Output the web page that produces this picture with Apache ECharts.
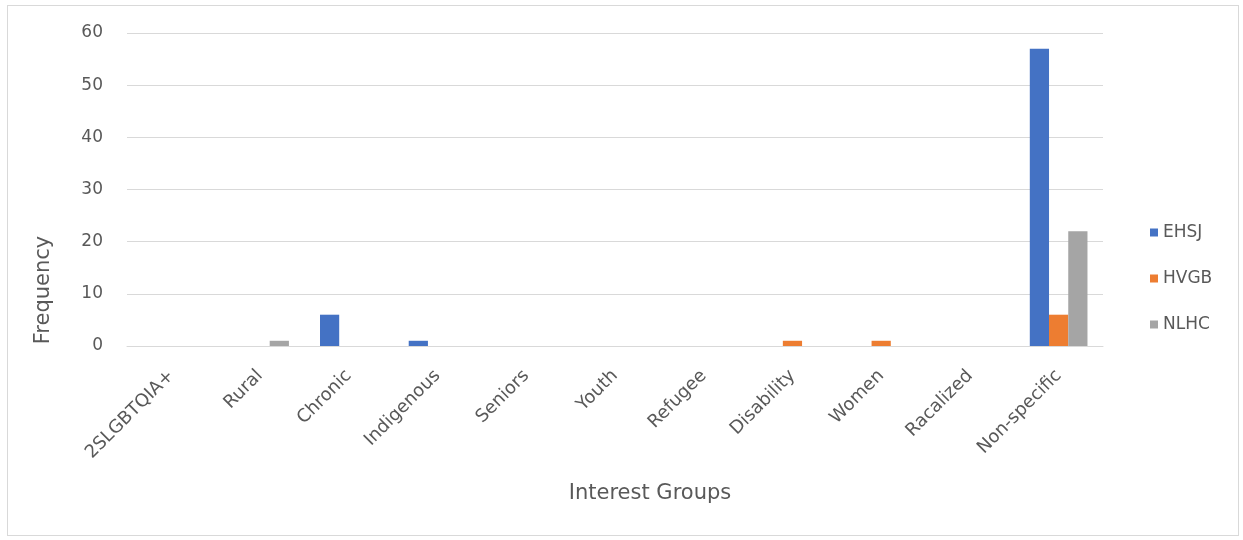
<!DOCTYPE html>
<html><head><meta charset="utf-8">
<script src="https://cdn.jsdelivr.net/npm/echarts@6/dist/echarts.min.js"></script>
<style>
html,body{margin:0;padding:0;background:#fff;}
#frame{position:absolute;left:7px;top:5px;width:1232px;height:531px;border:1px solid #d9d9d9;box-sizing:border-box;}
#chart{position:absolute;left:0;top:0;width:1243px;height:540px;}
</style></head>
<body>
<div id="frame"></div>
<div id="chart"></div>
<script>
const categories = ['2SLGBTQIA+','Rural','Chronic','Indigenous','Seniors','Youth','Refugee','Disability','Women','Racalized','Non-specific'];
const ehsj = [0,0,6,1,0,0,0,0,0,0,57];
const hvgb = [0,0,0,0,0,0,0,1,1,0,6];
const nlhc = [0,1,0,0,0,0,0,0,0,0,22];
const yTicks = {min:0,max:60,interval:10};
const xTitle = 'Interest Groups';
const yTitle = 'Frequency';

const chart = echarts.init(document.getElementById('chart'), null, {renderer:'canvas'});
const font = 'DejaVu Sans';
const txt = '#595959';
chart.setOption({
  animation:false,
  grid:{left:127,right:140,top:33,bottom:194,containLabel:false},
  legend:{
    orient:'vertical', left:1145, top:219, itemWidth:8, itemHeight:8, itemGap:29,
    icon:'rect',
    textStyle:{color:txt,fontFamily:font,fontSize:17},
    data:['EHSJ','HVGB','NLHC']
  },
  graphic:[{
    type:'text', x:33, y:290, rotation:Math.PI/2,
    style:{text:yTitle, fill:txt, font:'21px "DejaVu Sans"', align:'center', verticalAlign:'top'}
  },{
    type:'text', x:650, y:494,
    style:{text:xTitle, fill:txt, font:'21px "DejaVu Sans"', align:'center', verticalAlign:'middle'}
  }],
  xAxis:{
    type:'category', data:categories,
    axisLine:{lineStyle:{color:'#d9d9d9',width:1}},
    axisTick:{show:false},
    axisLabel:{rotate:45,color:txt,fontFamily:font,fontSize:18,margin:27,interval:0}
  },
  yAxis:{
    type:'value', min:yTicks.min, max:yTicks.max, interval:yTicks.interval,
    axisLine:{show:false}, axisTick:{show:false},
    splitLine:{lineStyle:{color:'#d9d9d9',width:1}},
    axisLabel:{color:txt,fontFamily:font,fontSize:17,margin:24}
  },
  series:[
    {name:'EHSJ',type:'bar',data:ehsj,itemStyle:{color:'#4472C4'},barGap:'0%',barCategoryGap:'35%'},
    {name:'HVGB',type:'bar',data:hvgb,itemStyle:{color:'#ED7D31'},barGap:'0%',barCategoryGap:'35%'},
    {name:'NLHC',type:'bar',data:nlhc,itemStyle:{color:'#A5A5A5'},barGap:'0%',barCategoryGap:'35%'}
  ]
});
</script>
</body></html>
